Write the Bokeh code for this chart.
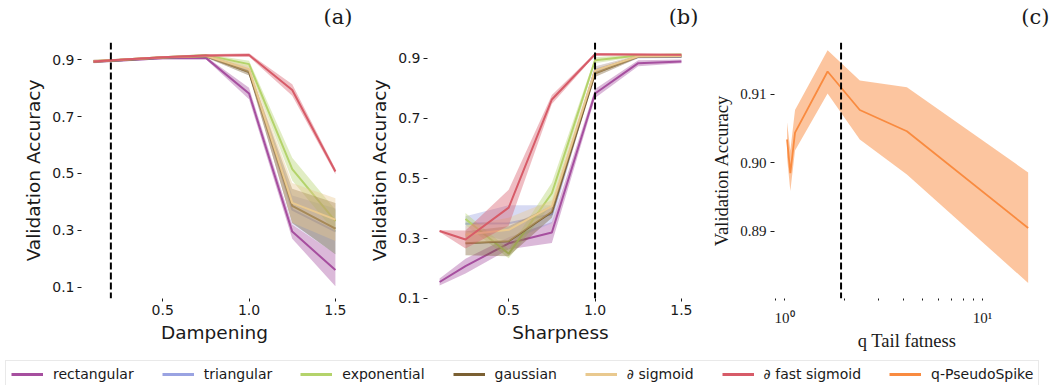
from bokeh.plotting import figure
from bokeh.layouts import column, row
from bokeh.models import (FixedTicker, Span, Legend, LegendItem, Range1d,
                          CustomJSTickFormatter, PrintfTickFormatter)
from bokeh.core.properties import value
from bokeh.embed import file_html
from bokeh.resources import INLINE

# ---------------- data ----------------
series_names = ["rectangular", "triangular", "exponential", "gaussian",
                "∂ sigmoid", "∂ fast sigmoid"]
series_colors = ["#a64f9f", "#9aa3e2", "#b4d36b", "#7b6033", "#e9c98f", "#d75b68"]
pseudo_name = "q-PseudoSpike"
pseudo_color = "#f98b40"

panel_tags = ["(a)", "(b)", "(c)"]

# (a) Dampening
damp_x = [0.1, 0.25, 0.5, 0.75, 1.0, 1.25, 1.5]
damp_rect = [0.893, 0.897, 0.905, 0.906, 0.781, 0.296, 0.161]
damp_tri = [0.893, 0.898, 0.907, 0.912, 0.862, 0.373, 0.297]
damp_exp = [0.894, 0.899, 0.908, 0.915, 0.884, 0.515, 0.333]
damp_gauss = [0.893, 0.898, 0.907, 0.912, 0.856, 0.386, 0.306]
damp_sigm = [0.894, 0.899, 0.908, 0.913, 0.866, 0.397, 0.338]
damp_fast = [0.893, 0.899, 0.908, 0.914, 0.916, 0.793, 0.507]
damp_rect_sd = [0.006, 0.005, 0.004, 0.005, 0.020, 0.025, 0.057]
damp_tri_sd = [0.005, 0.004, 0.004, 0.005, 0.010, 0.050, 0.080]
damp_exp_sd = [0.005, 0.004, 0.004, 0.005, 0.012, 0.040, 0.040]
damp_gauss_sd = [0.005, 0.004, 0.004, 0.005, 0.012, 0.060, 0.090]
damp_sigm_sd = [0.005, 0.004, 0.004, 0.005, 0.012, 0.070, 0.075]
damp_fast_sd = [0.005, 0.004, 0.004, 0.005, 0.006, 0.020, 0.010]

# (b) Sharpness
sharp_x = [0.1, 0.25, 0.5, 0.75, 1.0, 1.25, 1.5]
sharp_rect = [0.154, 0.207, 0.283, 0.319, 0.783, 0.884, 0.890]
sharp_tri = [None, 0.348, 0.350, 0.380, 0.862, 0.905, 0.905]
sharp_exp = [None, 0.364, 0.248, 0.450, 0.894, 0.910, 0.913]
sharp_gauss = [None, 0.283, 0.290, 0.388, 0.850, 0.906, 0.907]
sharp_sigm = [None, 0.312, 0.328, 0.407, 0.860, 0.907, 0.908]
sharp_fast = [0.324, 0.296, 0.402, 0.763, 0.914, 0.913, 0.912]
sharp_rect_sd = [0.012, 0.025, 0.020, 0.035, 0.015, 0.010, 0.006]
sharp_tri_sd = [None, 0.025, 0.060, 0.030, 0.012, 0.005, 0.004]
sharp_exp_sd = [None, 0.020, 0.015, 0.035, 0.010, 0.004, 0.003]
sharp_gauss_sd = [None, 0.040, 0.050, 0.020, 0.012, 0.005, 0.004]
sharp_sigm_sd = [None, 0.030, 0.040, 0.020, 0.012, 0.005, 0.004]
sharp_fast_sd = [0.003, 0.030, 0.060, 0.015, 0.004, 0.003, 0.003]

# (c) q tail fatness
q_x = [1.03, 1.07, 1.13, 1.65, 2.4, 4.15, 17.0]
q_mean = [0.9034, 0.8985, 0.9044, 0.9133, 0.9077, 0.9046, 0.8905]
q_lower = [0.9008, 0.8959, 0.9018, 0.9101, 0.9034, 0.8983, 0.8825]
q_upper = [0.9059, 0.9018, 0.9077, 0.9164, 0.9120, 0.9110, 0.8986]

damp_dash = 0.2
sharp_dash = 1.0
q_dash = 1.93

SANS = "DejaVu Sans"
SERIF = "Liberation Serif"
TXT = "#1a1a1a"
HEADER_H = 42


def make_fig(width, left, right, xr, yr, x_axis_type="linear"):
    p = figure(width=width, height=353 - HEADER_H, output_backend="svg",
               toolbar_location=None, x_range=xr, y_range=yr, x_axis_type=x_axis_type,
               min_border_left=left, min_border_right=right,
               min_border_top=0, min_border_bottom=47)
    p.outline_line_color = None
    p.grid.visible = False
    p.axis.axis_line_color = None
    p.axis.major_tick_line_color = TXT
    p.axis.minor_tick_line_color = TXT
    p.axis.major_label_text_color = TXT
    p.axis.axis_label_text_color = TXT
    p.axis.axis_label_text_font_style = "normal"
    return p


def style_sans(p, xlabel):
    p.xaxis.axis_label = xlabel
    p.yaxis.axis_label = "Validation Accuracy"
    for ax in (p.xaxis, p.yaxis):
        ax.axis_label_text_font = SANS
        ax.axis_label_text_font_size = "18.5px"
        ax.major_label_text_font = SANS
        ax.major_label_text_font_size = "14px"
    p.xaxis.ticker = FixedTicker(ticks=[0.5, 1.0, 1.5])
    p.xaxis.formatter = PrintfTickFormatter(format="%.1f")
    p.yaxis.ticker = FixedTicker(ticks=[0.1, 0.3, 0.5, 0.7, 0.9])
    p.yaxis.formatter = PrintfTickFormatter(format="%.1f")
    p.xaxis.major_tick_out = 3
    p.xaxis.major_tick_in = 0
    p.xaxis.major_label_standoff = 3
    p.xaxis.axis_label_standoff = 4
    p.yaxis.major_tick_out = 4
    p.yaxis.major_tick_in = 0
    p.yaxis.major_label_standoff = 3
    p.yaxis.axis_label_standoff = 5


def draw_series(p, xs, means, sds, color):
    pts = [(x, m, s) for x, m, s in zip(xs, means, sds) if m is not None]
    px = [a for a, _, _ in pts]
    lo = [m - s for _, m, s in pts]
    hi = [m + s for _, m, s in pts]
    p.varea(x=px, y1=lo, y2=hi, fill_color=color, fill_alpha=0.4)
    p.line(x=px, y=[m for _, m, _ in pts], line_color=color, line_width=2)


# ---------------- header strip with panel tags ----------------
ph = figure(width=1058, height=HEADER_H, output_backend="svg", toolbar_location=None,
            x_axis_type=None, y_axis_type=None,
            x_range=Range1d(0, 1058), y_range=Range1d(0, HEADER_H), min_border=0)
ph.outline_line_color = None
ph.grid.visible = False
ph.text(x=[352, 698, 1049], y=[HEADER_H - 16] * 3, text=panel_tags,
        text_align="right", text_baseline="middle",
        text_font=value("DejaVu Serif"), text_font_size="21px", text_color=TXT)

# ---------------- panel (a) ----------------
pa = make_fig(352, 81, 5, Range1d(0.03, 1.57), Range1d(0.061, 0.96))
style_sans(pa, "Dampening")
damp_means = [damp_rect, damp_tri, damp_exp, damp_gauss, damp_sigm, damp_fast]
damp_sds = [damp_rect_sd, damp_tri_sd, damp_exp_sd, damp_gauss_sd, damp_sigm_sd, damp_fast_sd]
for m, s, c in zip(damp_means, damp_sds, series_colors):
    draw_series(pa, damp_x, m, s, c)
pa.add_layout(Span(location=damp_dash, dimension="height", line_color="black",
                   line_width=2, line_dash="7 3"))

# ---------------- panel (b) ----------------
pb = make_fig(346, 75, 5, Range1d(0.03, 1.57), Range1d(0.099, 0.953))
style_sans(pb, "Sharpness")
sharp_means = [sharp_rect, sharp_tri, sharp_exp, sharp_gauss, sharp_sigm, sharp_fast]
sharp_sds = [sharp_rect_sd, sharp_tri_sd, sharp_exp_sd, sharp_gauss_sd, sharp_sigm_sd, sharp_fast_sd]
for m, s, c in zip(sharp_means, sharp_sds, series_colors):
    draw_series(pb, sharp_x, m, s, c)
pb.add_layout(Span(location=sharp_dash, dimension="height", line_color="black",
                   line_width=2, line_dash="7 3"))

# ---------------- panel (c) ----------------
pc = make_fig(360, 76, 19, Range1d(0.89, 19.4), Range1d(0.88024, 0.91753),
              x_axis_type="log")
pc.xaxis.axis_label = "q Tail fatness"
pc.yaxis.axis_label = "Validation Accuracy"
for ax in (pc.xaxis, pc.yaxis):
    ax.axis_label_text_font = SERIF
    ax.axis_label_text_font_size = "18.5px"
    ax.major_label_text_font = SERIF
    ax.major_label_text_font_size = "15px"
pc.xaxis.ticker = FixedTicker(ticks=[1, 10], minor_ticks=[0.9, 2, 3, 4, 5, 6, 7, 8, 9])
pc.xaxis.formatter = CustomJSTickFormatter(code="return tick < 5 ? '10\u2070' : '10\u00b9';")
pc.yaxis.ticker = FixedTicker(ticks=[0.89, 0.90, 0.91])
pc.yaxis.formatter = PrintfTickFormatter(format="%.2f")
pc.xaxis.major_tick_out = 2
pc.xaxis.major_tick_in = 0
pc.xaxis.minor_tick_out = 2
pc.xaxis.minor_tick_in = 0
pc.xaxis.major_label_standoff = 9
pc.xaxis.axis_label_standoff = 2
pc.yaxis.major_tick_out = 4
pc.yaxis.major_tick_in = 0
pc.yaxis.major_label_standoff = 4
pc.yaxis.axis_label_standoff = 5
pc.varea(x=q_x, y1=q_lower, y2=q_upper, fill_color=pseudo_color, fill_alpha=0.5)
pc.line(x=q_x, y=q_mean, line_color=pseudo_color, line_width=1.8)
pc.add_layout(Span(location=q_dash, dimension="height", line_color="black",
                   line_width=2, line_dash="7 3"))

# ---------------- legend strip ----------------
pl = figure(width=1058, height=32, output_backend="svg", toolbar_location=None,
            x_axis_type=None, y_axis_type=None, x_range=Range1d(0, 1), y_range=Range1d(0, 1),
            min_border=0)
pl.outline_line_color = None
pl.grid.visible = False
items = []
for name, c in zip(series_names + [pseudo_name], series_colors + [pseudo_color]):
    r = pl.line(x=[0, 1], y=[-5, -5], line_color=c, line_width=3)
    items.append(LegendItem(label=name, renderers=[r]))
leg = Legend(items=items, orientation="horizontal", location=(5, -3),
             glyph_width=32, glyph_height=14, label_height=14, label_standoff=10,
             spacing=28, padding=5, margin=0,
             label_text_font=SANS, label_text_font_size="14px", label_text_color=TXT,
             border_line_color="#d4d4d4", border_line_width=1,
             background_fill_color="white", background_fill_alpha=1.0)
pl.add_layout(leg, "center")

layout = column(ph, row(pa, pb, pc), pl)
open("out.html", "w").write(file_html(layout, INLINE))
